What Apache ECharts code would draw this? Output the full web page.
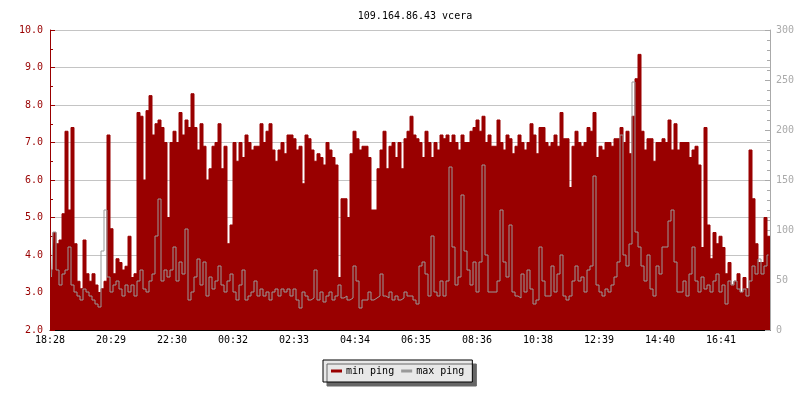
<!DOCTYPE html>
<html>
<head>
<meta charset="utf-8">
<script src="https://cdn.jsdelivr.net/npm/echarts@6/dist/echarts.min.js"></script>
<style>html,body{margin:0;padding:0;background:#fff}#c{width:800px;height:400px}</style>
</head>
<body>
<div id="c"></div>
<script>
const chartTitle = '109.164.86.43 vcera';
const xLabels = ['18:28','20:29','22:30','00:32','02:33','04:34','06:35','08:36','10:38','12:39','14:40','16:41'];
const tickMinutes = 122;
const binMinutes = 6;
const spanMinutes = 1440;

// min ping (ms, left axis), one value per 6-minute bin
const minPing = [
3.6,4.6,4.3,4.4,5.1,7.3,5.2,7.4,4.3,3.3,
3.1,4.4,3.5,3.3,3.5,3.2,3.0,3.1,3.3,7.2,
4.7,3.5,3.9,3.8,3.6,3.7,4.5,3.4,3.5,7.8,
7.7,6.0,7.85,8.25,7.2,7.5,7.6,7.4,7.0,5.0,
7.0,7.3,7.0,7.8,7.2,7.6,7.4,8.3,7.4,6.8,
7.5,6.9,6.0,6.3,6.9,7.0,7.5,6.3,6.9,4.3,
4.8,7.0,6.5,7.0,6.6,7.2,7.0,6.8,6.9,6.9,
7.5,7.0,7.3,7.5,6.8,6.5,6.8,7.0,6.7,7.2,
7.2,7.1,6.8,6.9,5.9,7.2,7.1,6.8,6.5,6.7,
6.6,6.4,7.0,6.8,6.6,6.4,3.4,5.5,5.5,5.0,
6.7,7.3,7.1,6.8,6.9,6.9,6.6,5.2,5.2,6.3,
6.8,7.3,6.3,6.9,7.0,6.6,7.0,6.3,7.1,7.3,
7.7,7.2,7.1,7.0,6.6,7.3,7.0,6.6,7.0,6.8,
7.2,7.1,7.2,7.0,7.2,7.0,6.8,7.2,7.0,7.0,
7.3,7.4,7.6,7.3,7.7,7.0,7.2,6.9,6.9,7.6,
7.0,6.8,7.2,7.1,6.7,6.9,7.2,7.0,6.8,7.0,
7.5,7.2,6.7,7.4,7.4,7.0,6.9,7.0,7.2,6.9,
7.8,7.1,7.1,5.8,6.9,7.3,7.0,6.9,7.0,7.4,
7.3,7.8,6.6,6.9,6.8,7.0,7.0,6.9,7.1,7.1,
7.4,7.0,7.3,6.7,7.7,8.7,9.35,7.3,6.8,7.1,
7.1,6.5,7.0,7.0,7.1,7.0,7.6,6.8,7.5,6.8,
7.0,7.0,7.0,6.6,6.8,6.9,6.4,4.2,7.4,4.8,
3.9,4.6,4.3,4.5,4.2,3.5,3.8,3.2,3.3,3.5,
3.0,3.4,3.1,6.8,5.5,4.3,3.8,3.8,5.0,4.5
];

// max ping (ms, right axis), one value per 6-minute bin
const maxPing = [
53,98,60,45,56,60,83,45,38,34,
30,41,38,34,30,26,23,79,120,53,
38,45,49,41,34,45,38,45,34,49,
60,41,38,49,56,94,131,49,60,53,
60,83,49,68,56,101,30,38,53,71,
45,68,34,53,41,49,64,45,38,49,
56,38,30,45,60,30,34,38,49,34,
41,34,38,30,38,41,34,41,38,41,
34,41,30,22,38,34,30,32,60,30,
38,28,34,38,30,34,45,32,34,30,
32,64,49,22,30,30,38,30,32,34,
56,34,32,38,30,34,30,32,38,34,
34,30,26,64,68,56,34,94,38,34,
49,34,49,163,83,45,53,135,79,60,
45,68,38,68,165,75,38,38,38,49,
120,68,53,105,38,34,32,56,38,60,
41,26,30,83,49,34,34,64,38,56,
75,34,30,34,49,64,49,53,38,60,
64,154,45,38,34,41,38,45,53,68,
195,75,64,86,248,98,83,64,49,75,
41,34,64,56,83,83,109,120,68,38,
38,49,34,56,83,49,38,53,41,45,
38,49,56,38,45,26,49,45,49,41,
38,41,34,49,64,56,71,56,64,75
];

const leftTicks = {min: 2, max: 10, interval: 1};
const rightTicks = {min: 0, max: 300, interval: 50};

const RED = '#990000', GRAY = '#999999';
const FONT = 'DejaVu Sans Mono';

const minData = minPing.map((v, i) => [i * binMinutes, v]);
minData.push([minPing.length * binMinutes, minPing[minPing.length - 1]]);
const maxData = maxPing.map((v, i) => [i * binMinutes + binMinutes / 2, v]);

const chart = echarts.init(document.getElementById('c'), null, {renderer: 'canvas'});
chart.setOption({
  animation: false,
  backgroundColor: '#ffffff',
  title: {
    text: chartTitle, left: 410, top: 6, textAlign: 'center',
    textStyle: {fontFamily: FONT, fontSize: 10, fontWeight: 'normal', color: '#000'}
  },
  legend: {
    left: 323, top: 360,
    data: ['min ping', 'max ping'],
    icon: 'rect', itemWidth: 11, itemHeight: 3, itemGap: 7,
    padding: [6, 8],
    backgroundColor: '#e8e8e8', borderColor: '#000', borderWidth: 1,
    shadowColor: '#666666', shadowOffsetX: 4, shadowOffsetY: 4, shadowBlur: 0.01,
    textStyle: {fontFamily: FONT, fontSize: 10, color: '#000', padding: [0, 0, 0, -1]}
  },
  grid: {left: 50, right: 30, top: 30, bottom: 70},
  xAxis: {
    type: 'value', min: 0, max: spanMinutes, interval: tickMinutes,
    axisLine: {show: true, lineStyle: {color: '#000', width: 1}},
    axisTick: {show: true, inside: true, length: 5, lineStyle: {color: '#000'}},
    splitLine: {show: false},
    axisLabel: {
      fontFamily: FONT, fontSize: 10, color: '#000', margin: 5, showMaxLabel: false,
      formatter: v => {
        const idx = Math.round(v / tickMinutes);
        return (Math.abs(v - idx * tickMinutes) < 0.5 && idx < xLabels.length) ? xLabels[idx] : '';
      }
    }
  },
  yAxis: [
    {
      type: 'value', position: 'left', min: leftTicks.min, max: leftTicks.max, interval: leftTicks.interval,
      axisLine: {show: true, lineStyle: {color: RED, width: 1}},
      axisTick: {show: true, inside: true, length: 5, lineStyle: {color: RED}},
      minorTick: {show: true, splitNumber: 2, length: 3, lineStyle: {color: RED}},
      splitLine: {show: true, lineStyle: {color: '#c4c4c4', width: 1}},
      axisLabel: {fontFamily: FONT, fontSize: 10, color: RED, margin: 7, formatter: v => v.toFixed(1)}
    },
    {
      type: 'value', position: 'right', min: rightTicks.min, max: rightTicks.max, interval: rightTicks.interval,
      axisLine: {show: true, lineStyle: {color: '#aaaaaa', width: 1}},
      axisTick: {show: true, inside: true, length: 5, lineStyle: {color: '#aaaaaa'}},
      minorTick: {show: true, splitNumber: 5, length: 3, lineStyle: {color: '#aaaaaa'}},
      splitLine: {show: false},
      axisLabel: {fontFamily: FONT, fontSize: 10, color: '#aaaaaa', margin: 6}
    }
  ],
  series: [
    {
      name: 'min ping', type: 'line', yAxisIndex: 0, step: 'end',
      data: minData, symbol: 'none', showSymbol: false, clip: true,
      itemStyle: {color: RED},
      lineStyle: {color: RED, width: 1},
      areaStyle: {color: RED, opacity: 1, origin: 'start'},
      z: 2
    },
    {
      name: 'max ping', type: 'line', yAxisIndex: 1, step: 'middle',
      data: maxData, symbol: 'none', showSymbol: false, clip: true,
      itemStyle: {color: GRAY},
      lineStyle: {color: GRAY, width: 1},
      z: 3
    }
  ]
});
</script>
</body>
</html>
